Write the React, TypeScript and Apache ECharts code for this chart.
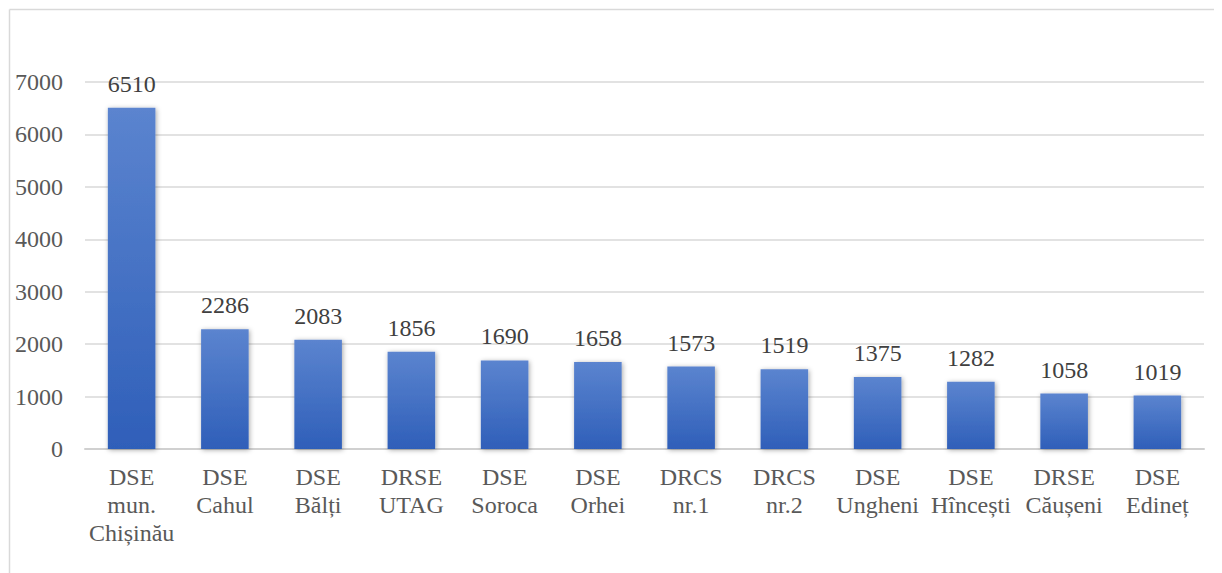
import React, { useEffect, useRef } from "react";
import * as echarts from "echarts";

const categories = [
  "DSE\nmun.\nChișinău",
  "DSE\nCahul",
  "DSE\nBălți",
  "DRSE\nUTAG",
  "DSE\nSoroca",
  "DSE\nOrhei",
  "DRCS\nnr.1",
  "DRCS\nnr.2",
  "DSE\nUngheni",
  "DSE\nHîncești",
  "DRSE\nCăușeni",
  "DSE\nEdineț",
];
const values = [6510, 2286, 2083, 1856, 1690, 1658, 1573, 1519, 1375, 1282, 1058, 1019];
const yMax = 7000;
const yInterval = 1000;

const FONT = "Liberation Serif";

export default function App() {
  const ref = useRef<HTMLDivElement>(null);
  useEffect(() => {
    if (!ref.current) return;
    const chart = echarts.init(ref.current, null, { renderer: "svg" });
    chart.setOption({
      animation: false,
      backgroundColor: "#ffffff",
      textStyle: { fontFamily: FONT },
      graphic: [
        {
          type: "line",
          shape: { x1: 1.5, y1: 1.5, x2: 1214, y2: 1.5 },
          style: { stroke: "#d9d9d9", lineWidth: 1.5 },
          silent: true,
        },
        {
          type: "line",
          shape: { x1: 1.5, y1: 1.5, x2: 1.5, y2: 565 },
          style: { stroke: "#d9d9d9", lineWidth: 1.5 },
          silent: true,
        },
      ],
      grid: { left: 77, right: 18, top: 74, bottom: 124, containLabel: false },
      xAxis: {
        type: "category",
        data: categories,
        axisTick: { show: false },
        axisLine: { show: true, lineStyle: { color: "#d0d0d0", width: 2 } },
        axisLabel: {
          interval: 0,
          color: "#595959",
          fontFamily: FONT,
          fontSize: 24,
          lineHeight: 28,
          margin: 14,
        },
      },
      yAxis: {
        type: "value",
        min: 0,
        max: yMax,
        interval: yInterval,
        axisLine: { show: false },
        axisTick: { show: false },
        splitLine: { lineStyle: { color: "#d9d9d9", width: 1.5 } },
        axisLabel: {
          color: "#595959",
          fontFamily: FONT,
          fontSize: 24,
          margin: 22,
          formatter: (v: number) => String(v),
        },
      },
      series: [
        {
          type: "bar",
          data: values,
          barCategoryGap: "49%",
          itemStyle: {
            color: new echarts.graphic.LinearGradient(0, 0, 0, 1, [
              { offset: 0, color: "#5b84cf" },
              { offset: 1, color: "#2f5fb9" },
            ]),
            shadowColor: "rgba(0,0,0,0.35)",
            shadowBlur: 5,
            shadowOffsetX: 1,
            shadowOffsetY: 1,
          },
          label: {
            show: true,
            position: "top",
            distance: 12,
            color: "#404040",
            fontFamily: FONT,
            fontSize: 24,
          },
        },
      ],
    });
    return () => chart.dispose();
  }, []);
  return <div ref={ref} style={{ width: 1214, height: 565 }} />;
}
